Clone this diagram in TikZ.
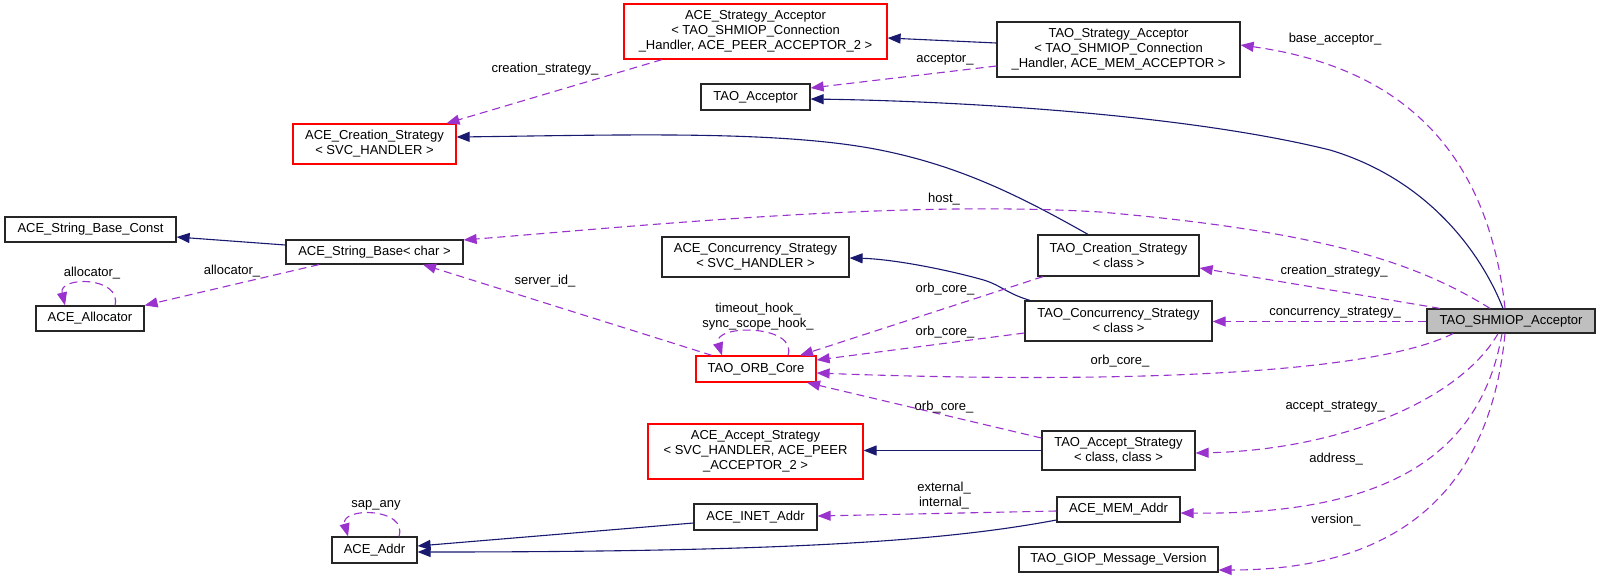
\documentclass[tikz,border=0pt]{standalone}
\usepackage{fontspec}
\setmainfont{Liberation Sans}
\usetikzlibrary{arrows.meta}
\definecolor{inhc}{RGB}{25,25,112}
\definecolor{usec}{RGB}{154,50,205}
\definecolor{redb}{RGB}{255,0,0}
\definecolor{selfill}{RGB}{191,191,191}
\begin{document}
\begin{tikzpicture}[x=1pt,y=-1pt, font=\fontsize{13}{15}\selectfont,
 box/.style={draw=black!85, line width=1.2pt, inner sep=0pt, align=center, rectangle, text=black},
 redbox/.style={box, draw=redb},
 sz/.style 2 args={minimum width=#1pt, minimum height=#2pt},
 lbl/.style={inner sep=0pt, align=center, text=black},
 inh/.style={draw=inhc, line width=1.1pt, -{Triangle[length=13pt,width=10pt]}},
 use/.style={draw=usec, line width=1.1pt, dash pattern=on 8pt off 5pt, -{Triangle[length=13pt,width=10pt]}},
]
\fill[white] (0,0) rectangle (1600,579);
\useasboundingbox (0,0) rectangle (1600,579);

% nodes
\node[redbox, sz={263}{55}] (ASA) at (755.5,31.5) {ACE\_Strategy\_Acceptor\\< TAO\_SHMIOP\_Connection\\\_Handler, ACE\_PEER\_ACCEPTOR\_2 >};
\node[box, sz={243}{55}] (TSA) at (1118.5,49.5) {TAO\_Strategy\_Acceptor\\< TAO\_SHMIOP\_Connection\\\_Handler, ACE\_MEM\_ACCEPTOR >};
\node[box, sz={109}{26}] (TAcc) at (755.5,97) {TAO\_Acceptor};
\node[redbox, sz={163}{40}] (ACS) at (374.5,144) {ACE\_Creation\_Strategy\\< SVC\_HANDLER >};
\node[box, sz={171}{25}] (SBC) at (90.5,229.5) {ACE\_String\_Base\_Const};
\node[box, sz={177}{24}] (SB) at (374.5,252) {ACE\_String\_Base< char >};
\node[box, sz={108}{25}] (Alloc) at (90,318.5) {ACE\_Allocator};
\node[box, sz={187}{40}] (ACCS) at (755.5,257) {ACE\_Concurrency\_Strategy\\< SVC\_HANDLER >};
\node[box, sz={161}{41}] (TCS) at (1118.5,255.5) {TAO\_Creation\_Strategy\\< class >};
\node[box, sz={187}{40}] (TCCS) at (1118.5,321) {TAO\_Concurrency\_Strategy\\< class >};
\node[box, fill=selfill, sz={168}{24}] (SHM) at (1511,321) {TAO\_SHMIOP\_Acceptor};
\node[redbox, sz={120}{26}] (ORB) at (756,369) {TAO\_ORB\_Core};
\node[redbox, sz={215}{55}] (AAS) at (755.5,451.5) {ACE\_Accept\_Strategy\\< SVC\_HANDLER, ACE\_PEER\\\_ACCEPTOR\_2 >};
\node[box, sz={153}{39}] (TAS) at (1118.5,450.5) {TAO\_Accept\_Strategy\\< class, class >};
\node[box, sz={123}{26}] (INET) at (755.5,517) {ACE\_INET\_Addr};
\node[box, sz={123}{25}] (MEM) at (1118.5,509.5) {ACE\_MEM\_Addr};
\node[box, sz={85}{26}] (Addr) at (374.5,550) {ACE\_Addr};
\node[box, sz={199}{25}] (GIOP) at (1118.5,559.5) {TAO\_GIOP\_Message\_Version};

% inheritance
\draw[inh] ([shift={(0,-6.5)}]TSA.west) -- ([shift={(0,6.5)}]ASA.east);
\draw[inh] ([shift={(-8,0)}]SHM.north) .. controls (1482,255) and (1430,180) .. (1330,150) .. controls (1180,113) and (950,101) .. ([shift={(0,2)}]TAcc.east);
\draw[inh] ([shift={(-30.5,0)}]TCS.north) .. controls (1020,196) and (960,166) .. (880,150) .. controls (780,130) and (620,135) .. ([shift={(0,-7)}]ACS.east);
\draw[inh] ([shift={(0,-7)}]SB.west) -- ([shift={(0,7.5)}]SBC.east);
\draw[inh] ([shift={(-88.5,0)}]TCCS.north) .. controls (1005,293) and (1000,284) .. (980,279) .. controls (940,268) and (890,259) .. ([shift={(0,1)}]ACCS.east);
\draw[inh] (TAS.west) -- (TAS.west -| AAS.east);
\draw[inh] ([shift={(0,6)}]INET.west) -- ([shift={(0,-4)}]Addr.east);
\draw[inh] ([shift={(0,10.5)}]MEM.west) .. controls (950,540) and (800,552) .. ([shift={(0,2)}]Addr.east);

% usage
\draw[use] ([shift={(-93.5,0)}]ASA.south) -- ([shift={(72,0)}]ACS.north);
\draw[use] ([shift={(0,16.5)}]TSA.west) -- ([shift={(0,-9)}]TAcc.east);
\draw[use] ([shift={(-6,0)}]SHM.north) .. controls (1490,170) and (1420,70) .. ([shift={(0,-4.5)}]TSA.east);
\draw[use] ([shift={(-21,0)}]SHM.north) .. controls (1420,265) and (1330,232) .. (1100,212) .. controls (900,200) and (650,225) .. ([shift={(0,-12)}]SB.east);
\draw[use] ([shift={(-71,0)}]SHM.north) -- ([shift={(0,12.5)}]TCS.east);
\draw[use] ([shift={(0,0.5)}]SHM.west) -- ([shift={(0,0.5)}]SHM.west -| TCCS.east);
\draw[use] ([shift={(-58,0)}]SHM.south) .. controls (1350,385) and (1000,380) .. ([shift={(0,4)}]ORB.east);
\draw[use] ([shift={(-13,0)}]SHM.south) .. controls (1460,400) and (1340,450) .. ([shift={(0,2.5)}]TAS.east);
\draw[use] ([shift={(-9,0)}]SHM.south) .. controls (1480,460) and (1380,515) .. ([shift={(0,3.5)}]MEM.east);
\draw[use] ([shift={(-6,0)}]SHM.south) .. controls (1490,490) and (1400,570) .. ([shift={(0,10.5)}]GIOP.east);
\draw[use] ([shift={(-75.5,0)}]TCS.south) -- ([shift={(44,0)}]ORB.north);
\draw[use] ([shift={(0,12)}]TCCS.west) -- ([shift={(0,-9)}]ORB.east);
\draw[use] ([shift={(0,-12.5)}]TAS.west) -- ([shift={(51,0)}]ORB.south);
\draw[use] ([shift={(-44,0)}]ORB.north) -- ([shift={(48.5,0)}]SB.south);
\draw[use] ([shift={(-55.5,0)}]SB.south) -- (Alloc.north east);
\draw[use] ([shift={(25,0)}]Alloc.north) .. controls (122,276) and (58,276) .. ([shift={(-25,0)}]Alloc.north);
\draw[use] ([shift={(32,0)}]ORB.north) .. controls (798,324) and (712,324) .. ([shift={(-34,0)}]ORB.north);
\draw[use] ([shift={(24.5,0)}]Addr.north) .. controls (408,507) and (340,507) .. ([shift={(-26.5,0)}]Addr.north);
\draw[use] ([shift={(0,1.5)}]MEM.west) -- ([shift={(0,-1)}]INET.east);

% labels
\node[lbl] (l1) at (545,69) {creation\_strategy\_};
\node[lbl] (l2) at (945,60) {acceptor\_};
\node[lbl] (l3) at (1335,39) {base\_acceptor\_};
\node[lbl] (l4) at (944,199) {host\_};
\node[lbl] (l5) at (1334,271) {creation\_strategy\_};
\node[lbl] (l6) at (1335,313) {concurrency\_strategy\_};
\node[lbl] (l7) at (1120,361) {orb\_core\_};
\node[lbl] (l8) at (1335,407) {accept\_strategy\_};
\node[lbl] (l9) at (1336,459) {address\_};
\node[lbl] (l10) at (1336,520) {version\_};
\node[lbl] (l11) at (945,289) {orb\_core\_};
\node[lbl] (l12) at (945,332) {orb\_core\_};
\node[lbl] (l13) at (944,407) {orb\_core\_};
\node[lbl] (l14) at (545,281) {server\_id\_};
\node[lbl] (l15) at (232,271) {allocator\_};
\node[lbl] (l16) at (92,273) {allocator\_};
\node[lbl] (l17) at (758,316.5) {timeout\_hook\_\\sync\_scope\_hook\_};
\node[lbl] (l18) at (376,505) {sap\_any};
\node[lbl] (l19) at (944,495.5) {external\_\\internal\_};
\end{tikzpicture}
\end{document}
